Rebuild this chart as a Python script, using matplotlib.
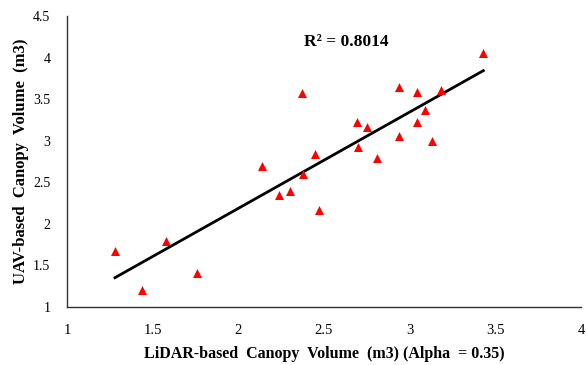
import numpy as np
import matplotlib
matplotlib.use("Agg")
import matplotlib.pyplot as plt

# LiDAR vs UAV canopy volume (m3)
lidar_vol = [1.28, 1.44, 1.58, 1.76, 2.14, 2.24, 2.30, 2.37, 2.38, 2.45, 2.47,
             2.69, 2.70, 2.75, 2.81, 2.94, 2.94, 3.04, 3.04, 3.09, 3.13, 3.18, 3.43]
uav_vol = [1.67, 1.20, 1.79, 1.41, 2.70, 2.35, 2.40, 3.57, 2.60, 2.84, 2.17,
           3.22, 2.93, 3.16, 2.79, 3.06, 3.65, 3.59, 3.23, 3.37, 3.00, 3.61, 4.06]
x_ticks = [1, 1.5, 2, 2.5, 3, 3.5, 4]
y_ticks = [1, 1.5, 2, 2.5, 3, 3.5, 4, 4.5]
r2_text = "R² = 0.8014"

plt.rcParams['font.family'] = ['Liberation Serif', 'DejaVu Serif']

fig = plt.figure(figsize=(5.86, 3.65), dpi=100)
ax = fig.add_axes([0.1143, 0.1589, 0.8772, 0.7971])

ax.scatter(lidar_vol, uav_vol, marker='^', s=42, color='#ff0000', zorder=3, linewidths=0)

# linear trendline
k, b = np.polyfit(lidar_vol, uav_vol, 1)
xs = np.array([min(lidar_vol), max(lidar_vol)])
ax.plot(xs, k * xs + b, color='black', lw=2.0, zorder=2)

ax.text(2.63, 4.19, r2_text, fontsize=12.5, fontweight='bold', ha='center', va='center')

ax.set_xlim(1, 4)
ax.set_ylim(1, 4.5)
ax.set_xticks(x_ticks)
ax.set_yticks(y_ticks)
ax.set_xticklabels([f"{v:g}" for v in x_ticks], fontsize=10.5)
ax.set_yticklabels([f"{v:g}" for v in y_ticks], fontsize=10)
ax.tick_params(axis='x', length=0, pad=12)
ax.tick_params(axis='y', length=0, pad=12)
for s in ['top', 'right']:
    ax.spines[s].set_visible(False)
for s in ['left', 'bottom']:
    ax.spines[s].set_color('#333333')
    ax.spines[s].set_linewidth(1.0)

ax.set_xlabel("LiDAR-based  Canopy  Volume  (m3) (Alpha  = 0.35)", fontsize=11.5, fontweight='bold', labelpad=7)
ax.set_ylabel("UAV-based  Canopy  Volume  (m3)", fontsize=12, fontweight='bold', labelpad=3)

fig.savefig("out.png", dpi=100)
